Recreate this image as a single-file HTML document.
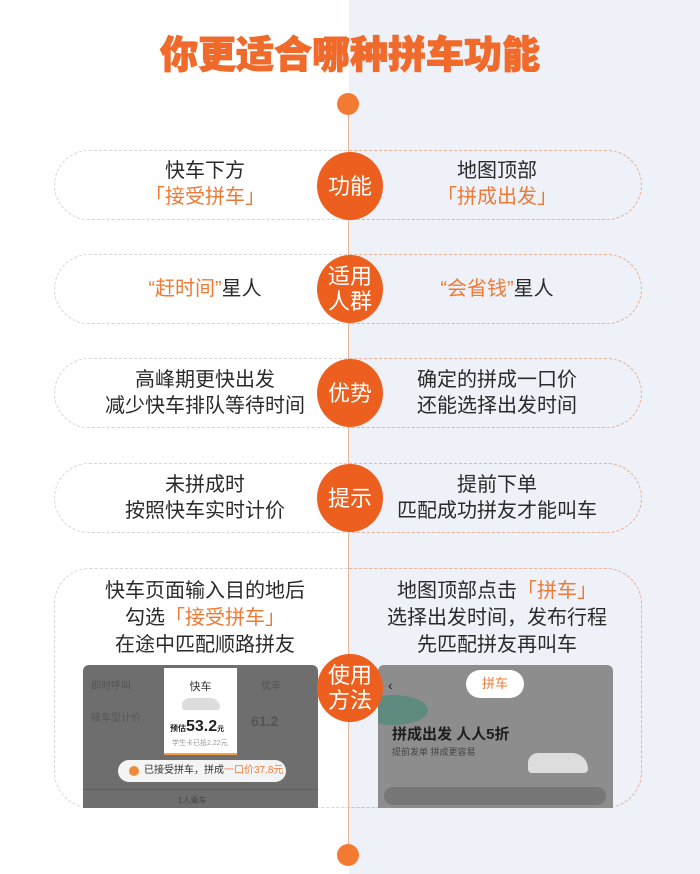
<!DOCTYPE html>
<html><head><meta charset="utf-8"><style>
*{margin:0;padding:0;box-sizing:border-box}
body{width:700px;height:874px;position:relative;overflow:hidden;background:#fff;font-family:"Liberation Sans","Noto Sans CJK SC",sans-serif;color:#2a2a2a}
.abs{position:absolute}
.right{left:349px;top:0;width:351px;height:874px;background:#eef1f7}
.line{left:348px;top:104px;width:1px;height:752px;background:#e8b89a}
.title{left:0;width:700px;top:24px;text-align:center;font-size:38px;font-weight:900;color:#f06a2c;letter-spacing:0;-webkit-text-stroke:1px #f06a2c}
.dot{width:22px;height:22px;border-radius:50%;background:#f47a32;left:337px}
.box{left:54px;width:588px;border-radius:36px;border:1.5px dashed #d6d6d6}
.boxr{left:349px;width:293px;border:1.5px dashed #ebb496;border-left:none;border-radius:0 36px 36px 0}
.circ{left:317px;width:66px;height:68px;border-radius:50%;background:#ec5f1f;color:#fff;font-size:22px;display:flex;align-items:center;justify-content:center;text-align:center;line-height:25px}
.t{text-align:center;font-size:20px;line-height:26px}
.L{left:60px;width:290px}.R{left:352px;width:290px}
.o{color:#ef7a35}
</style></head><body>
<div class="abs right"></div>
<div class="abs line"></div>
<div class="abs title">你更适合哪种拼车功能</div>
<div class="abs dot" style="top:93px"></div>
<div class="abs dot" style="top:844px"></div>

<div class="abs box" style="top:150px;height:70px"></div><div class="abs boxr" style="top:150px;height:70px"></div>
<div class="abs box" style="top:254px;height:70px"></div><div class="abs boxr" style="top:254px;height:70px"></div>
<div class="abs box" style="top:358px;height:70px"></div><div class="abs boxr" style="top:358px;height:70px"></div>
<div class="abs box" style="top:463px;height:70px"></div><div class="abs boxr" style="top:463px;height:70px"></div>
<div class="abs box" style="top:568px;height:240px"></div><div class="abs boxr" style="top:568px;height:240px"></div>

<div class="abs t L" style="top:158px">快车下方<br><span class="o">「接受拼车」</span></div>
<div class="abs t R" style="top:158px">地图顶部<br><span class="o">「拼成出发」</span></div>
<div class="abs t L" style="top:276px"><span class="o">“赶时间”</span>星人</div>
<div class="abs t R" style="top:276px"><span class="o">“会省钱”</span>星人</div>
<div class="abs t L" style="top:367px">高峰期更快出发<br>减少快车排队等待时间</div>
<div class="abs t R" style="top:367px">确定的拼成一口价<br>还能选择出发时间</div>
<div class="abs t L" style="top:472px">未拼成时<br>按照快车实时计价</div>
<div class="abs t R" style="top:472px">提前下单<br>匹配成功拼友才能叫车</div>
<div class="abs t L" style="top:578px;line-height:27px">快车页面输入目的地后<br>勾选<span class="o">「接受拼车」</span><br>在途中匹配顺路拼友</div>
<div class="abs t R" style="top:578px;line-height:27px">地图顶部点击<span class="o">「拼车」</span><br>选择出发时间，发布行程<br>先匹配拼友再叫车</div>

<div class="abs" style="left:83px;top:665px;width:235px;height:143px;background:#6e6e6e;border-radius:6px 6px 0 0;overflow:hidden">
 <div class="abs" style="left:8px;top:12px;font-size:10px;color:#555">即时呼叫</div>
 <div class="abs" style="left:8px;top:44px;font-size:10px;color:#555">接车型计价</div>
 <div class="abs" style="left:178px;top:12px;font-size:10px;color:#555">优享</div>
 <div class="abs" style="left:168px;top:48px;font-size:14px;color:#555;font-weight:bold">61.2</div>
 <div class="abs" style="left:81px;top:3px;width:73px;height:87px;background:#fff;border-bottom:2px solid #f5a046">
  <div class="abs" style="left:0;width:73px;top:10px;text-align:center;font-size:11px;color:#333">快车</div>
  <div class="abs" style="left:18px;top:30px;width:38px;height:12px;background:#ddd;border-radius:8px 10px 3px 3px"></div>
  <div class="abs" style="left:6px;top:50px;font-size:16px;color:#222;font-weight:bold"><span style="font-size:8px">预估</span>53.2<span style="font-size:7px">元</span></div>
  <div class="abs" style="left:8px;top:70px;font-size:7px;color:#999">学生卡已抵2.22元</div>
 </div>
 <div class="abs" style="left:35px;top:95px;width:168px;height:22px;background:#f4f4f4;border-radius:11px;font-size:10px;line-height:22px;padding-left:26px;color:#333">已接受拼车，拼成<span class="o">一口价37.8元</span></div>
 <div class="abs" style="left:46px;top:101px;width:10px;height:10px;border-radius:50%;background:#f08a3a"></div>
 <div class="abs" style="left:0;top:124px;width:235px;height:1px;background:#5e5e5e"></div>
 <div class="abs" style="left:95px;top:130px;font-size:8px;color:#444">1人乘车</div>
</div>
<div class="abs" style="left:378px;top:665px;width:235px;height:143px;background:#8d8d8d;border-radius:6px 6px 0 0;overflow:hidden">
 <div class="abs" style="left:-20px;top:30px;width:70px;height:30px;border-radius:50%;background:#5f8a80"></div>
 <div class="abs" style="left:10px;top:12px;font-size:14px;color:#222">‹</div>
 <div class="abs" style="left:88px;top:5px;width:58px;height:28px;background:#fff;border-radius:14px;text-align:center;line-height:28px;font-size:13px;color:#ef7a35">拼车</div>
 <div class="abs" style="left:14px;top:58px;font-size:15px;font-weight:bold;color:#1e1e1e">拼成出发 人人5折</div>
 <div class="abs" style="left:14px;top:80px;font-size:9px;color:#444">提前发单 拼成更容易</div>
 <div class="abs" style="left:150px;top:88px;width:60px;height:20px;background:#ddd;border-radius:10px 16px 4px 4px"></div>
 <div class="abs" style="left:6px;top:122px;width:222px;height:18px;background:#777;border-radius:9px"></div>
</div>

<div class="abs circ" style="top:152px">功能</div>
<div class="abs circ" style="top:255px">适用<br>人群</div>
<div class="abs circ" style="top:359px">优势</div>
<div class="abs circ" style="top:464px">提示</div>
<div class="abs circ" style="top:654px">使用<br>方法</div>
</body></html>
